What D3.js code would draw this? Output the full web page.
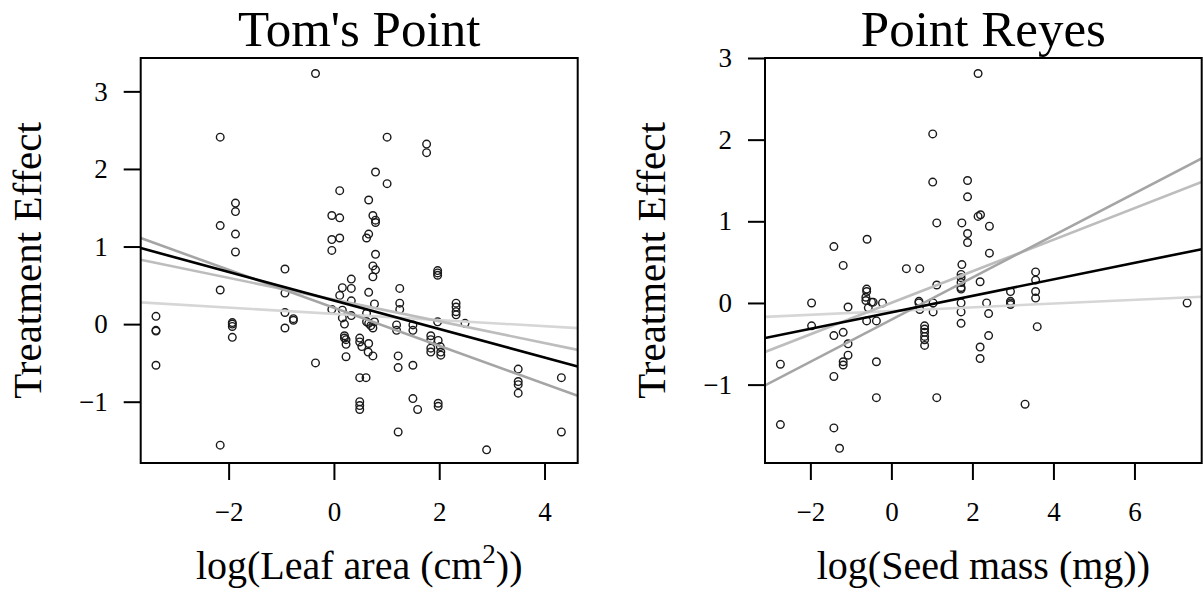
<!DOCTYPE html>
<meta charset="utf-8">
<script src="https://d3js.org/d3.v7.min.js"></script>
<style>
  body { margin: 0; background: #fff; }
  text { font-family: "Liberation Serif", "DejaVu Serif", serif; fill: #000; }
</style>
<div id="my_dataviz"></div>
<script>

// ---- data ----
var tomX = [-0.35,-2.16,0.11,-1.87,-1.87,-2.16,-1.87,-1.87,-0.04,0.11,-0.04,0.11,-0.04,
  1.01,1.76,1.76,0.79,1.01,0.66,0.74,0.79,0.79,0.66,0.62,0.79,
  -0.93,-2.16,-0.93,0.16,0.33,0.33,0.11,0.33,-0.04,0.16,0.33,0.16,-0.93,-0.77,-0.77,-0.93,
  -3.38,-3.38,-3.38,-3.38,-1.93,-1.93,-1.93,-1.93,
  0.20,0.20,0.20,0.23,0.23,0.23,-0.35,-2.16,
  0.74,0.79,0.74,0.66,0.77,1.25,1.25,1.25,1.97,1.97,1.97,2.32,2.32,2.32,2.32,2.49,1.97,
  0.62,0.62,0.66,0.70,0.74,0.77,0.49,0.49,0.53,0.66,0.65,0.74,
  1.19,1.19,1.50,1.50,1.22,1.22,1.50,0.49,0.61,0.49,0.49,0.49,1.50,1.59,1.22,
  1.84,1.84,1.84,1.84,1.98,2.02,2.03,2.03,1.98,1.98,2.90,3.50,3.50,3.50,3.50,4.32,4.32];
var tomY = [3.23,2.41,1.72,1.56,1.45,1.27,1.16,0.93,1.40,1.37,1.09,1.11,0.95,
  2.41,2.32,2.21,1.96,1.81,1.60,1.40,1.34,1.31,1.16,1.11,0.90,
  0.71,0.44,0.40,0.47,0.58,0.46,0.37,0.30,0.19,0.18,0.11,0.08,0.15,0.07,0.05,-0.05,
  0.10,-0.08,-0.09,-0.53,0.02,0.00,-0.03,-0.17,
  0.00,-0.15,-0.18,-0.20,-0.26,-0.42,-0.50,-1.56,
  0.75,0.70,0.61,0.41,0.26,0.46,0.27,0.19,0.69,0.66,0.63,0.27,0.22,0.16,0.12,0.01,0.03,
  0.14,0.03,0.01,-0.02,-0.05,0.03,-0.18,-0.23,-0.29,-0.25,-0.36,-0.41,
  -0.01,-0.08,-0.01,-0.08,-0.41,-0.56,-0.53,-0.69,-0.69,-1.00,-1.05,-1.10,-0.96,-1.10,-1.39,
  -0.15,-0.20,-0.31,-0.36,-0.21,-0.29,-0.36,-0.40,-1.02,-1.06,-1.62,-0.58,-0.74,-0.78,-0.89,-0.69,-1.39];

var reyesX = [2.14,1.02,1.02,1.88,1.88,2.14,2.20,2.42,1.12,1.74,1.88,1.88,-0.60,-1.42,-1.19,
  0.37,0.70,1.74,2.42,1.72,1.72,1.72,1.72,1.72,1.12,2.19,
  -0.61,-0.61,-0.63,-0.63,-0.49,-0.45,-0.57,-0.22,-1.97,-1.07,-1.97,-0.61,-0.37,
  -1.19,-1.42,-1.07,-1.07,-1.19,-1.19,-2.74,-0.37,-1.42,-0.37,1.12,-2.74,-1.42,-1.28,
  0.68,0.68,0.70,0.82,0.82,0.82,0.82,0.82,0.82,1.03,1.03,1.72,1.72,1.72,
  2.35,2.40,2.40,2.19,2.19,2.94,2.94,2.94,2.94,3.56,3.56,3.56,3.56,3.60,3.30,7.30];
var reyesY = [2.81,2.07,1.48,1.50,1.30,1.06,1.08,0.94,0.98,0.98,0.85,0.74,0.78,0.69,0.46,
  0.42,0.42,0.47,0.61,0.35,0.31,0.25,0.19,0.17,0.22,0.26,
  0.17,0.14,0.07,0.03,0.01,0.01,-0.06,0.00,0.00,-0.05,-0.28,-0.22,-0.22,
  -0.36,-0.40,-0.50,-0.64,-0.72,-0.76,-0.75,-0.72,-0.90,-1.16,-1.16,-1.49,-1.53,-1.78,
  0.02,0.00,-0.08,-0.28,-0.32,-0.36,-0.41,-0.45,-0.52,0.00,-0.11,0.00,-0.11,-0.25,
  0.00,-0.13,-0.40,-0.54,-0.68,0.14,0.02,0.00,-0.02,0.38,0.28,0.14,0.06,-0.29,-1.24,0.00];

// fitted lines: intercept and slope, drawn light to dark
var tomIntercept = [0.133, 0.316, 0.21, 0.305];
var tomSlope = [-0.040, -0.140, -0.245, -0.184];
var reyesIntercept = [-0.099, 0.002, -0.205, -0.115];
var reyesSlope = [0.0228, 0.193, 0.258, 0.101];

var tomXTicks = [-2, 0, 2, 4];
var reyesXTicks = [-2, 0, 2, 4, 6];
var yTicks = [-1, 0, 1, 2, 3];

var lineColors = ["#d6d6d6", "#bdbdbd", "#a5a5a5", "#000000"];

var svg = d3.select("#my_dataviz")
  .append("svg")
    .attr("width", 1203)
    .attr("height", 596);

function panel(opt) {
  var x = d3.scaleLinear().domain(opt.xDomain).range([opt.left, opt.right]);
  var y = d3.scaleLinear().domain(opt.yDomain).range([opt.bottom, opt.top]);
  var g = svg.append("g");

  g.append("clipPath").attr("id", opt.id)
    .append("rect")
      .attr("x", opt.left).attr("y", opt.top)
      .attr("width", opt.right - opt.left).attr("height", opt.bottom - opt.top);

  // points
  g.selectAll("circle")
    .data(opt.xs.map(function(d, i) { return [d, opt.ys[i]]; }))
    .enter()
    .append("circle")
      .attr("cx", function(d) { return x(d[0]); })
      .attr("cy", function(d) { return y(d[1]); })
      .attr("r", 3.8)
      .style("fill", "none")
      .style("stroke", "#1a1a1a")
      .style("stroke-width", 1.4);

  // regression lines across the whole panel
  g.append("g").attr("clip-path", "url(#" + opt.id + ")")
    .selectAll("line")
    .data(opt.intercepts.map(function(a, i) { return {a: a, b: opt.slopes[i], c: lineColors[i]}; }))
    .enter()
    .append("line")
      .attr("x1", x(opt.xDomain[0]))
      .attr("x2", x(opt.xDomain[1]))
      .attr("y1", function(d) { return y(d.a + d.b * opt.xDomain[0]); })
      .attr("y2", function(d) { return y(d.a + d.b * opt.xDomain[1]); })
      .style("stroke", function(d) { return d.c; })
      .style("stroke-width", 2.6);

  // box
  g.append("rect")
    .attr("x", opt.left).attr("y", opt.top)
    .attr("width", opt.right - opt.left).attr("height", opt.bottom - opt.top)
    .style("fill", "none").style("stroke", "#000").style("stroke-width", 2);

  // bottom axis
  var xa = g.append("g")
    .attr("transform", "translate(0," + opt.bottom + ")")
    .call(d3.axisBottom(x).tickValues(opt.xTicks).tickFormat(d3.format("d"))
      .tickSize(17).tickPadding(22).tickSizeOuter(0));
  xa.select(".domain").remove();
  xa.selectAll("line").style("stroke-width", 2);
  xa.selectAll("text").style("font-size", "27px").attr("font-family", null);

  // left axis
  var ya = g.append("g")
    .attr("transform", "translate(" + opt.left + ",0)")
    .call(d3.axisLeft(y).tickValues(yTicks).tickFormat(d3.format("d"))
      .tickSize(17).tickPadding(16).tickSizeOuter(0));
  ya.select(".domain").remove();
  ya.selectAll("line").style("stroke-width", 2);
  ya.selectAll("text").style("font-size", "27px").attr("font-family", null);

  // titles
  var cx = (opt.left + opt.right) / 2;
  g.append("text").attr("x", cx).attr("y", 46)
    .attr("text-anchor", "middle").style("font-size", "51px").text(opt.title);

  var xl = g.append("text").attr("x", cx).attr("y", 579)
    .attr("text-anchor", "middle").style("font-size", "40px");
  opt.xLabel(xl);

  g.append("text")
    .attr("transform", "translate(" + (opt.left - 100) + "," + ((opt.top + opt.bottom) / 2) + ")rotate(-90)")
    .attr("text-anchor", "middle").style("font-size", "41px").text("Treatment Effect");
}

panel({
  id: "clipTom", title: "Tom's Point",
  left: 140.7, right: 577.7, top: 58, bottom: 463,
  xDomain: [-3.67, 4.63], yDomain: [-1.79, 3.43],
  xs: tomX, ys: tomY, intercepts: tomIntercept, slopes: tomSlope, xTicks: tomXTicks,
  xLabel: function(t) {
    t.append("tspan").text("log(Leaf area (cm");
    t.append("tspan").attr("dy", -16).style("font-size", "27px").text("2");
    t.append("tspan").attr("dy", 16).text("))");
  }
});

panel({
  id: "clipReyes", title: "Point Reyes",
  left: 765, right: 1201.7, top: 58, bottom: 463,
  xDomain: [-3.12, 7.66], yDomain: [-1.96, 3.0],
  xs: reyesX, ys: reyesY, intercepts: reyesIntercept, slopes: reyesSlope, xTicks: reyesXTicks,
  xLabel: function(t) { t.text("log(Seed mass (mg))"); }
});

</script>
